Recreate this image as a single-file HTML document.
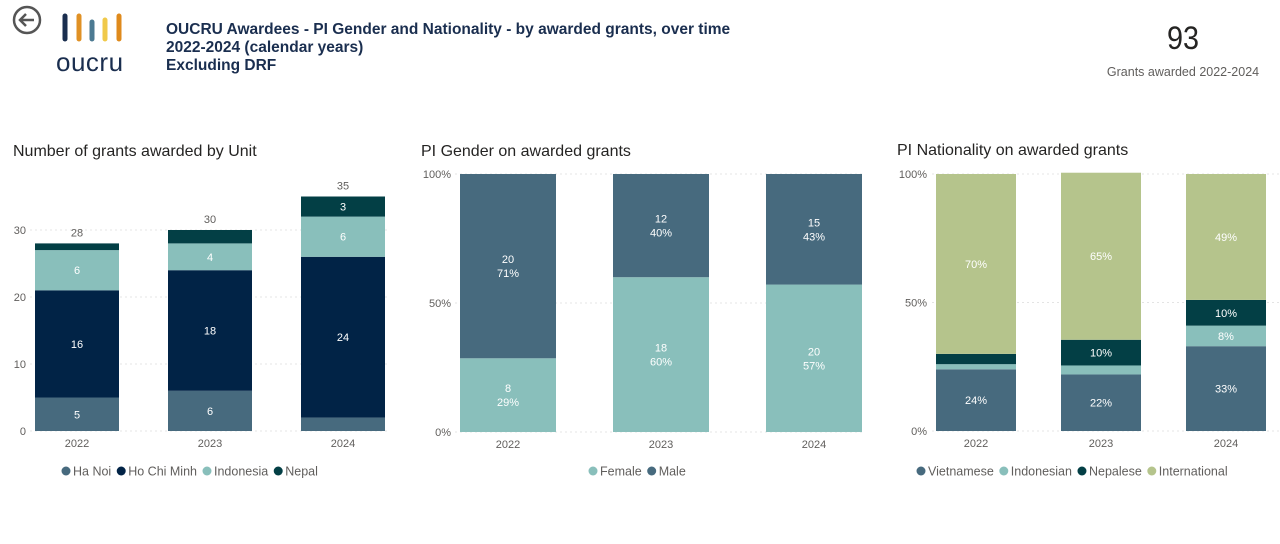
<!DOCTYPE html>
<html><head><meta charset="utf-8"><style>
body{margin:0;width:1280px;height:544px;background:#fff;font-family:"Liberation Sans","DejaVu Sans",sans-serif;overflow:hidden;position:relative}
.abs{position:absolute}
.ttl{font-size:16px;color:#252423}
</style></head><body>
<svg class="abs" style="left:12px;top:5px" width="32" height="32"><circle cx="15" cy="15" r="13" fill="none" stroke="#555" stroke-width="2.5"/><path d="M22 15H9M14 9l-6 6 6 6" fill="none" stroke="#555" stroke-width="2.5"/></svg>
<div class="abs" style="left:56px;top:12px;width:76px;height:60px">
<svg width="76" height="32"><g stroke-linecap="round" stroke-width="5"><line x1="9" y1="4" x2="9" y2="27" stroke="#1a2e4f"/><line x1="23" y1="4" x2="23" y2="27" stroke="#e09125"/><line x1="36" y1="10" x2="36" y2="27" stroke="#4c7a92"/><line x1="49" y1="8" x2="49" y2="27" stroke="#f0c94a"/><line x1="63" y1="4" x2="63" y2="27" stroke="#df8a1c"/></g></svg>
<div style="font-size:26px;color:#1a2e4f;margin-top:-2px;letter-spacing:0.5px">oucru</div></div>
<div class="abs" style="left:166px;top:21px;font-size:15.5px;font-weight:bold;color:#1a2e4f;line-height:18px">OUCRU Awardees - PI Gender and Nationality - by awarded grants, over time<br>2022-2024 (calendar years)<br>Excluding DRF</div>
<div class="abs" style="left:1100px;top:20px;width:166px;text-align:center;font-size:32px;color:#252423;transform:scaleX(0.9)">93</div>
<div class="abs" style="left:1090px;top:65px;width:186px;text-align:center;font-size:12.5px;color:#605e5c">Grants awarded 2022-2024</div>
<div class="abs ttl" style="left:13px;top:143px">Number of grants awarded by Unit</div>
<div class="abs ttl" style="left:421px;top:143px">PI Gender on awarded grants</div>
<div class="abs ttl" style="left:897px;top:142px">PI Nationality on awarded grants</div>
<svg id="c" class="abs" style="left:0;top:0" width="1280" height="544"></svg>
<script>
const years=["2022","2023","2024"];
const haNoi=[5,6,2], hcm=[16,18,24], indo=[6,4,6], nepal=[1,2,3];
const unitTicks=[0,10,20,30];
const female=[8,18,20], male=[20,12,15];
const femalePct=["29%","60%","57%"], malePct=["71%","40%","43%"];
const vietPct=[24,22,33], indoPct=[2,3.5,8], nepalPct=[4,10,10], intlPct=[70,65,49];
const pctTicks=[0,50,100];
const C={hn:"#476a7e",hcm:"#012346",indo:"#89bfbb",nep:"#033f45",intl:"#b5c48c"};
const svg=document.getElementById('c');const NS="http://www.w3.org/2000/svg";
function el(t,a,txt){const e=document.createElementNS(NS,t);for(const k in a)e.setAttribute(k,a[k]);if(txt!==undefined)e.textContent=txt;svg.appendChild(e);return e;}
function txt(x,y,s,col,size,anchor){const e=el('text',{x:x,y:y,fill:col,'font-size':size||11,'text-anchor':anchor||'middle','font-family':'Liberation Sans, DejaVu Sans, sans-serif'},s);return e;}
function chart(cfg){
 const y=v=>cfg.y0-(v/cfg.max)*(cfg.y0-cfg.y1);
 cfg.ticks.forEach(t=>{const g=el('line',{x1:cfg.gx0,x2:cfg.gx1,y1:y(t),y2:y(t),stroke:'#e4e4e4','stroke-dasharray':'2,3'});
  const l=txt(cfg.tx,y(t)+4,cfg.fmt(t),'#605e5c',11,'end');});
 years.forEach((yr,i)=>{let base=0;const cx=cfg.cx[i],w=cfg.w;
  cfg.series.forEach(s=>{const v=s.vals[i];const r=el('rect',{x:cx-w/2,y:y(base+v),width:w,height:y(base)-y(base+v),fill:s.col});
   
   const lab=s.label?s.label(i):null;
   if(lab&&(y(base)-y(base+v))>15){const lines=lab.split('\n');lines.forEach((ln,j)=>{const t=txt(cx,(y(base)+y(base+v))/2+4+(j-(lines.length-1)/2)*14,ln,'#fff',11);});}
   base+=v;});
  if(cfg.total){const t=txt(cx,y(base)-7,String(base),'#605e5c',11);}
  const xl=txt(cx,cfg.y0+16,yr,'#605e5c',11);});
 let lx=cfg.legX;cfg.series.forEach(s=>{const c=el('circle',{cx:lx+5,cy:471,r:4.5,fill:s.col});
  const t=txt(lx+12,475.5,s.legend,'#605e5c',12.5,'start');lx+=12+t.getComputedTextLength()+5;});
}
chart({y0:431,y1:230,max:30,ticks:unitTicks,fmt:t=>t,tx:26,gx0:30,gx1:390,cx:[77,210,343],w:84,total:true,legX:61,
 series:[{name:'ha-noi',legend:'Ha Noi',col:C.hn,vals:haNoi,label:i=>String(haNoi[i])},
 {name:'ho-chi-minh',legend:'Ho Chi Minh',col:C.hcm,vals:hcm,label:i=>String(hcm[i])},
 {name:'indonesia',legend:'Indonesia',col:C.indo,vals:indo,label:i=>String(indo[i])},
 {name:'nepal',legend:'Nepal',col:C.nep,vals:nepal,label:i=>String(nepal[i])}]});
const tot=years.map((_,i)=>female[i]+male[i]);
chart({y0:432,y1:174,max:100,ticks:pctTicks,fmt:t=>t+'%',tx:451,gx0:455,gx1:865,cx:[508,661,814],w:96,total:false,legX:588,
 series:[{name:'female',legend:'Female',col:C.indo,vals:female.map((v,i)=>v/tot[i]*100),label:i=>female[i]+'\n'+femalePct[i]},
 {name:'male',legend:'Male',col:C.hn,vals:male.map((v,i)=>v/tot[i]*100),label:i=>male[i]+'\n'+malePct[i]}]});
chart({y0:431,y1:174,max:100,ticks:pctTicks,fmt:t=>t+'%',tx:927,gx0:932,gx1:1280,cx:[976,1101,1226],w:80,total:false,legX:916,
 series:[{name:'vietnamese',legend:'Vietnamese',col:C.hn,vals:vietPct,label:i=>vietPct[i]+'%'},
 {name:'indonesian',legend:'Indonesian',col:C.indo,vals:indoPct,label:i=>indoPct[i]>=5?indoPct[i]+'%':null},
 {name:'nepalese',legend:'Nepalese',col:C.nep,vals:nepalPct,label:i=>nepalPct[i]>=5?nepalPct[i]+'%':null},
 {name:'international',legend:'International',col:C.intl,vals:intlPct,label:i=>intlPct[i]+'%'}]});
</script>
</body></html>
